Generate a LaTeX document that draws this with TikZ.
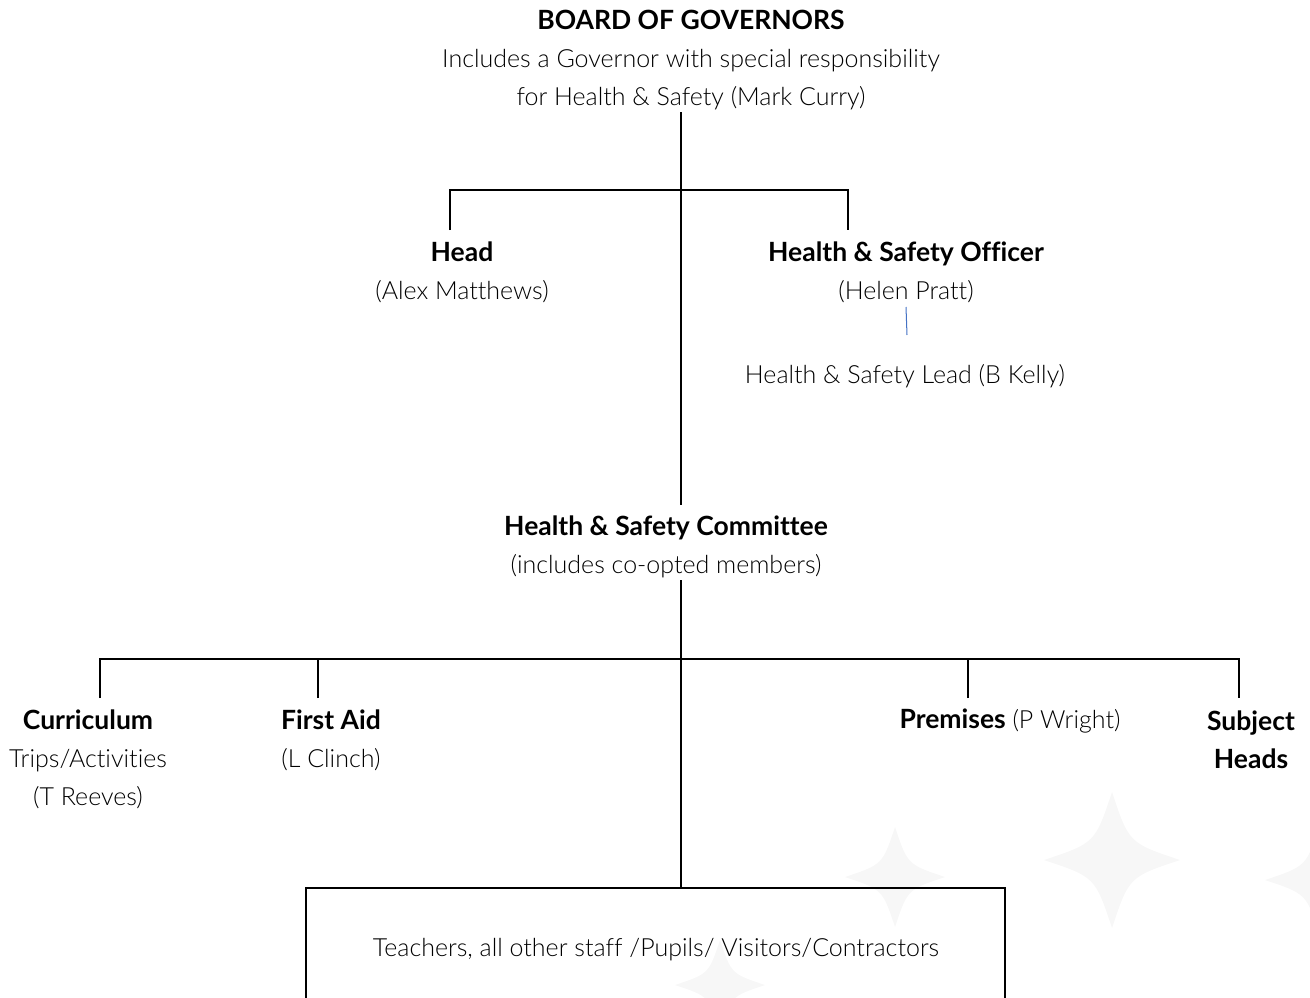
\documentclass[tikz,border=0pt]{standalone}
\usepackage{fontspec}
\setmainfont{Lato Light}[BoldFont={Lato Bold}, Ligatures=NoCommon]
\definecolor{leadblue}{RGB}{68,114,196}
\newcommand\bt[1]{{\fontsize{26.5}{38}\selectfont\bfseries #1}}
\begin{document}
\begin{tikzpicture}[x=1pt,y=-1pt,
  lbl/.style={inner sep=0pt, align=center, font=\fontsize{25}{38}\selectfont},
  conn/.style={line width=2pt, black},
  lead/.style={line width=1pt, leadblue},
  wm/.style={fill=black!3, draw=none}]
\useasboundingbox (0,0) rectangle (1310,998);
% faint watermark
\begin{scope}
\clip (0,0) rectangle (1310,998);
\foreach \cx/\cy/\r in {895/877/50, 1112/860/68, 1320/880/55, 720/985/45}{
  \fill[wm] (\cx,\cy) ++(0,-\r) .. controls +(0.25*\r,0.75*\r) .. ++(\r,\r)
     .. controls +(-0.75*\r,0.25*\r) .. ++(-\r,\r)
     .. controls +(-0.25*\r,-0.75*\r) .. ++(-\r,-\r)
     .. controls +(0.75*\r,-0.25*\r) .. ++(\r,-\r) -- cycle;
}
\end{scope}
% nodes
\node[lbl] (bog) at (691,60) {\bt{BOARD OF GOVERNORS}\\Includes a Governor with special responsibility\\for Health \& Safety (Mark Curry)};
\node[lbl] (head) at (462,272) {\bt{Head}\\(Alex Matthews)};
\node[lbl] (hso) at (906,272) {\bt{Health \& Safety Officer}\\(Helen Pratt)};
\node[lbl] (lead) at (905,376) {Health \& Safety Lead (B Kelly)};
\node[lbl] (com) at (666,547) {\bt{Health \& Safety Committee}\\(includes co-opted members)};
\node[lbl] (cur) at (88,759) {\bt{Curriculum}\\Trips/Activities\\(T Reeves)};
\node[lbl] (fa) at (331,740) {\bt{First Aid}\\(L Clinch)};
\node[lbl] (prem) at (1010,721) {\bt{Premises} (P Wright)};
\node[lbl] (subj) at (1251,740) {\bt{Subject}\\\bt{Heads}};
\node[lbl] (staff) at (656,950) {Teachers, all other staff /Pupils/ Visitors/Contractors};
% coordinates
\coordinate (t1) at (681,112);
\coordinate (j1) at (681,190);
\coordinate (b1) at (681,505);
\coordinate (hd) at (450,230);
\coordinate (ho) at (848,230);
\coordinate (t2) at (681,580);
\coordinate (j2) at (681,659);
\coordinate (cu) at (100,698);
\coordinate (fi) at (318,698);
\coordinate (pr) at (968,698);
\coordinate (su) at (1239,698);
\coordinate (bx) at (681,888);
\coordinate (ls) at (906,307);
\coordinate (le) at (907,335);
% connectors
\draw[conn] (t1) -- (b1);
\draw[conn] (hd) |- (j1) -| (ho);
\draw[conn] (t2) -- (bx);
\draw[conn] (cu) |- (j2) -| (su);
\draw[conn] (fi) -- (fi |- j2);
\draw[conn] (pr) -- (pr |- j2);
\draw[lead] (ls) -- (le);
% bottom box (open at page edge)
\draw[conn] (306,1010) -- (306,888) -- (1005,888) -- (1005,1010);
\end{tikzpicture}
\end{document}
